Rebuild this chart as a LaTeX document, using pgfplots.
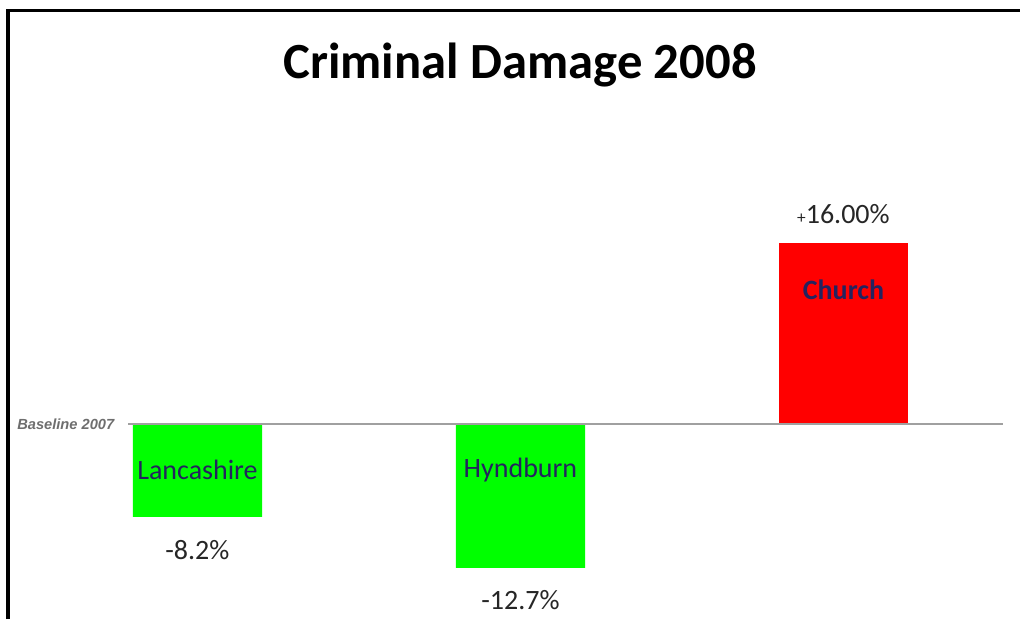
\documentclass[border=0pt]{standalone}
\usepackage{fontspec}
\setmainfont{Carlito}
\newfontfamily\arialfont{Liberation Sans}
\usepackage{pgfplots}
\pgfplotsset{compat=1.18}
\definecolor{barg}{HTML}{00FF00}
\definecolor{barr}{HTML}{FF0000}
\definecolor{lblblue}{HTML}{24235F}
\definecolor{valgray}{HTML}{262626}
\definecolor{basegray}{HTML}{A0A0A0}
\definecolor{basetxt}{HTML}{6E6E6E}
\begin{document}
\begin{tikzpicture}[x=0.75pt,y=0.75pt]
\useasboundingbox (0,0) rectangle (1020,619);
% frame (left and top edges only)
\draw[line width=2.3pt] (8,0) -- (8,608.5) -- (1020,608.5);
\node[font=\bfseries\fontsize{38}{44}\selectfont] at (520,554) {Criminal Damage 2008};
\node[font=\arialfont\bfseries\itshape\fontsize{11}{13}\selectfont,text=basetxt,anchor=east] at (119,195) {Baseline 2007};
\begin{axis}[at={(96pt,0pt)},anchor=south west,scale only axis,
  width=656.25pt,height=381.75pt,
  xmin=-0.215,xmax=2.494,ymin=-17.21,ymax=27.71,
  axis lines=none,clip=false]
\addplot[ybar,bar width=0.4,bar shift=0pt,fill=barg,draw=none] coordinates {(0,-8.2) (1,-12.7)};
\addplot[ybar,bar width=0.4,bar shift=0pt,fill=barr,draw=none] coordinates {(2,16.0)};
\draw[basegray,line width=0.9pt] (axis cs:-0.215,0) -- (axis cs:2.494,0);
\node[font=\fontsize{21}{24}\selectfont,text=lblblue] at (axis cs:0,-4.06) {Lancashire};
\node[font=\fontsize{21}{24}\selectfont,text=lblblue] at (axis cs:1,-4.06) {Hyndburn};
\node[font=\bfseries\fontsize{21}{24}\selectfont,text=lblblue] at (axis cs:2,11.83) {Church};
\node[font=\fontsize{21}{24}\selectfont,text=valgray] at (axis cs:0,-11.12) {-8.2\%};
\node[font=\fontsize{21}{24}\selectfont,text=valgray] at (axis cs:1,-15.53) {-12.7\%};
\node[font=\fontsize{21}{24}\selectfont,text=valgray] at (axis cs:2,18.53) {{\fontsize{13}{15}\selectfont+}16.00\%};
\end{axis}
\end{tikzpicture}
\end{document}
